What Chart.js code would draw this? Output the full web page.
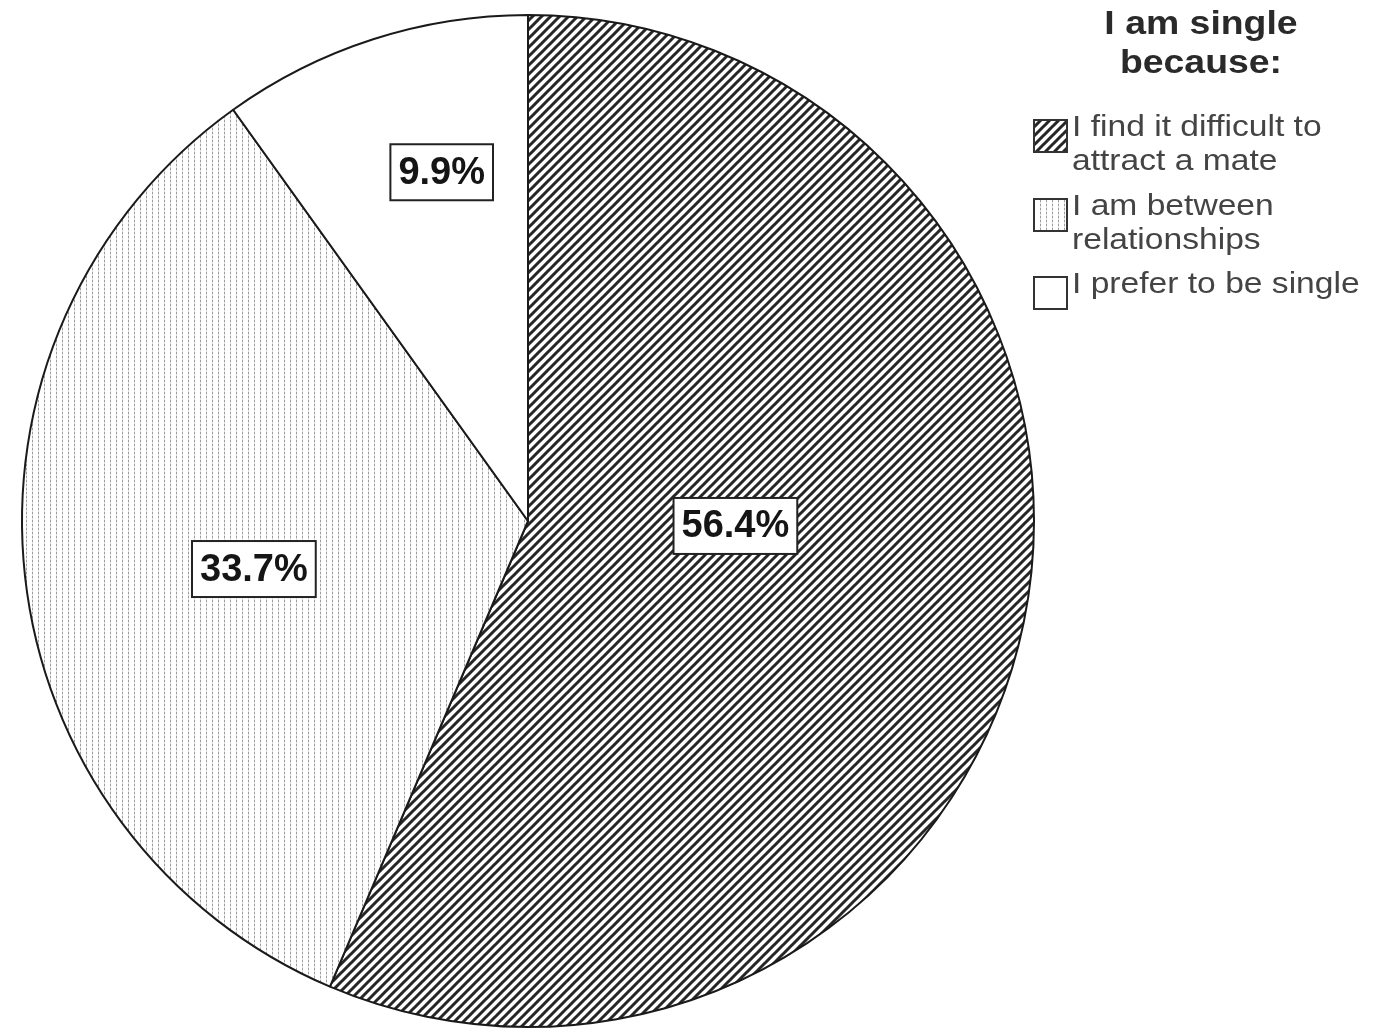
<!DOCTYPE html>
<html>
<head>
<meta charset="utf-8">
<script src="https://cdn.jsdelivr.net/npm/chart.js@4/dist/chart.umd.min.js"></script>
<style>
html,body{margin:0;padding:0;background:#fff;}
#wrap{width:1374px;height:1031px;position:relative;}
</style>
</head>
<body>
<div id="wrap"><canvas id="c" width="1374" height="1031"></canvas></div>
<script>
const legendTitle = ["I am single", "because:"];
const categories = [
  ["I find it difficult to", "attract a mate"],
  ["I am between", "relationships"],
  ["I prefer to be single"]
];
const values = [56.4, 33.7, 9.9];
const valueLabels = ["56.4%", "33.7%", "9.9%"];
// label placement within each slice: [fraction of slice angle, fraction of radius]
const labelAngleFrac = [0.45, 0.47, 0.61];
const labelRadiusFrac = [0.41, 0.55, 0.71];

function hatchPattern() {
  const s = 9, c = document.createElement('canvas');
  c.width = s; c.height = s;
  const x = c.getContext('2d');
  x.fillStyle = '#fff'; x.fillRect(0, 0, s, s);
  x.strokeStyle = '#262626'; x.lineWidth = 3.0; x.lineCap = 'square';
  x.beginPath();
  x.moveTo(-2, s + 2); x.lineTo(s + 2, -2);
  x.moveTo(-2, 2); x.lineTo(2, -2);
  x.moveTo(s - 2, s + 2); x.lineTo(s + 2, s - 2);
  x.stroke();
  return x.createPattern(c, 'repeat');
}
function dotPattern() {
  const w = 6, h = 4, c = document.createElement('canvas');
  c.width = w; c.height = h;
  const x = c.getContext('2d');
  x.fillStyle = '#fff'; x.fillRect(0, 0, w, h);
  x.fillStyle = '#9c9c9c'; x.fillRect(2, 0, 1, 2);
  x.fillStyle = '#dcdcdc'; x.fillRect(2, 2, 1, 2);
  return x.createPattern(c, 'repeat');
}
const fills = [hatchPattern(), dotPattern(), '#ffffff'];

const labelPlugin = {
  id: 'sliceLabels',
  afterDatasetsDraw(chart) {
    const ctx = chart.ctx;
    const meta = chart.getDatasetMeta(0);
    ctx.save();
    ctx.font = 'bold 38px "Liberation Sans", Arial, sans-serif';
    ctx.textAlign = 'center'; ctx.textBaseline = 'middle';
    meta.data.forEach((arc, i) => {
      const p = arc.getProps(['x', 'y', 'startAngle', 'endAngle', 'outerRadius'], true);
      const a = p.startAngle + (p.endAngle - p.startAngle) * labelAngleFrac[i];
      const r = p.outerRadius * labelRadiusFrac[i];
      const cx = p.x + Math.cos(a) * r, cy = p.y + Math.sin(a) * r;
      const tw = ctx.measureText(valueLabels[i]).width;
      const bw = tw + 16, bh = 56;
      ctx.fillStyle = '#fff';
      ctx.fillRect(cx - bw / 2, cy - bh / 2, bw, bh);
      ctx.strokeStyle = '#222'; ctx.lineWidth = 2;
      ctx.strokeRect(cx - bw / 2, cy - bh / 2, bw, bh);
      ctx.fillStyle = '#151515';
      ctx.save();
      ctx.translate(cx, cy + 1);
      ctx.fillText(valueLabels[i], 0, 0);
      ctx.restore();
    });
    ctx.restore();
  }
};

const legendPlugin = {
  id: 'customLegend',
  afterDraw(chart) {
    const ctx = chart.ctx;
    ctx.save();
    ctx.fillStyle = '#2a2a2a';
    ctx.textAlign = 'center'; ctx.textBaseline = 'middle';
    ctx.font = 'bold 34px "Liberation Sans", Arial, sans-serif';
    legendTitle.forEach((t, i) => {
      ctx.save();
      ctx.translate(1201, 25 + i * 39);
      ctx.scale(1.1, 1);
      ctx.fillText(t, 0, 0);
      ctx.restore();
    });
    const boxX = 1034, boxW = 33, boxH = 32, textX = 1072, lineH = 34;
    const firstLineY = [128, 207, 285];
    ctx.font = '30px "Liberation Sans", Arial, sans-serif';
    ctx.textAlign = 'left';
    categories.forEach((lines, i) => {
      const y0 = firstLineY[i];
      const by = y0 - 8;
      ctx.fillStyle = fills[i];
      ctx.fillRect(boxX, by, boxW, boxH);
      ctx.strokeStyle = '#333'; ctx.lineWidth = 2;
      ctx.strokeRect(boxX, by, boxW, boxH);
      ctx.fillStyle = '#444';
      lines.forEach((ln, j) => {
        ctx.save();
        ctx.translate(textX, y0 + j * lineH);
        ctx.scale(1.12, 1);
        ctx.fillText(ln, 0, 0);
        ctx.restore();
      });
    });
    ctx.restore();
  }
};

new Chart(document.getElementById('c'), {
  type: 'pie',
  data: {
    labels: categories.map(l => l.join(' ')),
    datasets: [{
      data: values,
      backgroundColor: fills,
      borderColor: '#1a1a1a',
      borderWidth: 2,
      borderAlign: 'center'
    }]
  },
  options: {
    responsive: false,
    animation: false,
    layout: { padding: { left: 21, right: 339, top: 14, bottom: 3 } },
    plugins: { legend: { display: false }, tooltip: { enabled: false } }
  },
  plugins: [labelPlugin, legendPlugin]
});
</script>
</body>
</html>
